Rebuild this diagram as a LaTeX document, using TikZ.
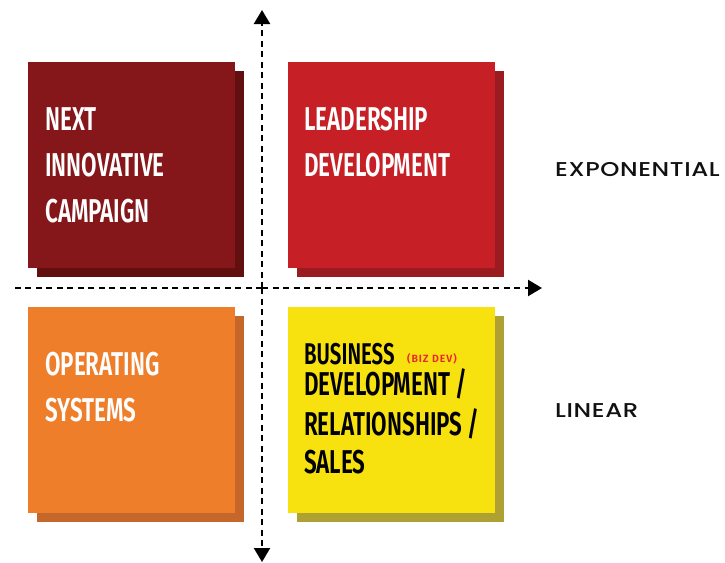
\documentclass[tikz,border=0pt]{standalone}
\usepackage{fontspec}
\usetikzlibrary{arrows.meta}
\newfontfamily\bebas[FakeStretch=0.68, BoldFont={* SemiBold}]{Fira Sans}
\newfontfamily\bizfont[LetterSpace=9, BoldFont={* SemiBold}]{Fira Sans}
\newfontfamily\geo[UprightFont={* Medium}, FakeStretch=1.22, LetterSpace=3]{Poppins}
\definecolor{dred}{HTML}{85161A}
\definecolor{dredsh}{HTML}{620F0F}
\definecolor{lred}{HTML}{C62026}
\definecolor{lredsh}{HTML}{9A1C20}
\definecolor{orng}{HTML}{EE7E2A}
\definecolor{orngsh}{HTML}{C5672A}
\definecolor{yelw}{HTML}{F7E10F}
\definecolor{yelwsh}{HTML}{AFA033}
\definecolor{bizred}{HTML}{E8262B}
\definecolor{labelblack}{HTML}{111111}
\tikzset{
  quad/.style={rectangle, draw=none, minimum width=207pt, minimum height=206pt, inner sep=0pt, anchor=north west},
  qtext/.style={anchor=base west, inner sep=0pt, text height=23pt, text depth=0pt, font=\bebas\bfseries\fontsize{33}{33}\selectfont},
  axis/.style={line width=2.4pt, dash pattern=on 6pt off 4.5pt, -{Triangle[width=16pt,length=14pt]}},
  scale label/.style={anchor=base west, inner sep=0pt, text=labelblack, font=\geo\fontsize{20}{20}\selectfont}
}
\begin{document}
\begin{tikzpicture}[x=1pt,y=-1pt]
\useasboundingbox (0,0) rectangle (725,562);
% shadows
\node[quad, fill=dredsh] (s1) at (37,71) {};
\node[quad, fill=lredsh] (s2) at (297,71) {};
\node[quad, fill=orngsh] (s3) at (37,316) {};
\node[quad, fill=yelwsh] (s4) at (297,316) {};
% front boxes
\node[quad, fill=dred] (b1) at (28,62) {};
\node[quad, fill=lred] (b2) at (288,62) {};
\node[quad, fill=orng] (b3) at (28,307) {};
\node[quad, fill=yelw] (b4) at (288,307) {};
% axes
\coordinate (vtop) at (262,10);
\coordinate (vbot) at (262,562);
\coordinate (hleft) at (12,288);
\coordinate (hright) at (542,288);
\coordinate (vmid) at (262,288);
\draw[axis] (vmid) -- (vtop);
\draw[axis] (vmid) -- (vbot);
\draw[axis, -] (vmid) -- (hleft);
\draw[axis] (vmid) -- (hright);
% texts
\node[qtext, text=white] (t1a) at (45,130) {NEXT};
\node[qtext, text=white] (t1b) at (45,176) {INNOVATIVE};
\node[qtext, text=white] (t1c) at (45,222) {CAMPAIGN};
\node[qtext, text=white] (t2a) at (304,130) {LEADERSHIP};
\node[qtext, text=white] (t2b) at (304,176) {DEVELOPMENT};
\node[qtext, text=white] (t3a) at (45,375) {OPERATING};
\node[qtext, text=white] (t3b) at (45,421) {SYSTEMS};
\node[qtext, text=black, font=\bebas\bfseries\fontsize{30}{30}\selectfont, text height=20pt] (t4a) at (304,364) {BUSINESS};
\node[anchor=base west, inner sep=0pt, text height=7pt, text depth=0pt, text=bizred, font=\bizfont\bfseries\fontsize{10.5}{10.5}\selectfont] (t4x) at (407,362) {(BIZ DEV)};
\node[qtext, text=black] (t4b) at (304,395) {DEVELOPMENT /};
\node[qtext, text=black] (t4c) at (304,435) {RELATIONSHIPS /};
\node[qtext, text=black] (t4d) at (304,473) {SALES};
% scale labels
\node[scale label] (exp) at (555,176) {EXPONENTIAL};
\node[scale label] (lin) at (555,417) {LINEAR};
\end{tikzpicture}
\end{document}
